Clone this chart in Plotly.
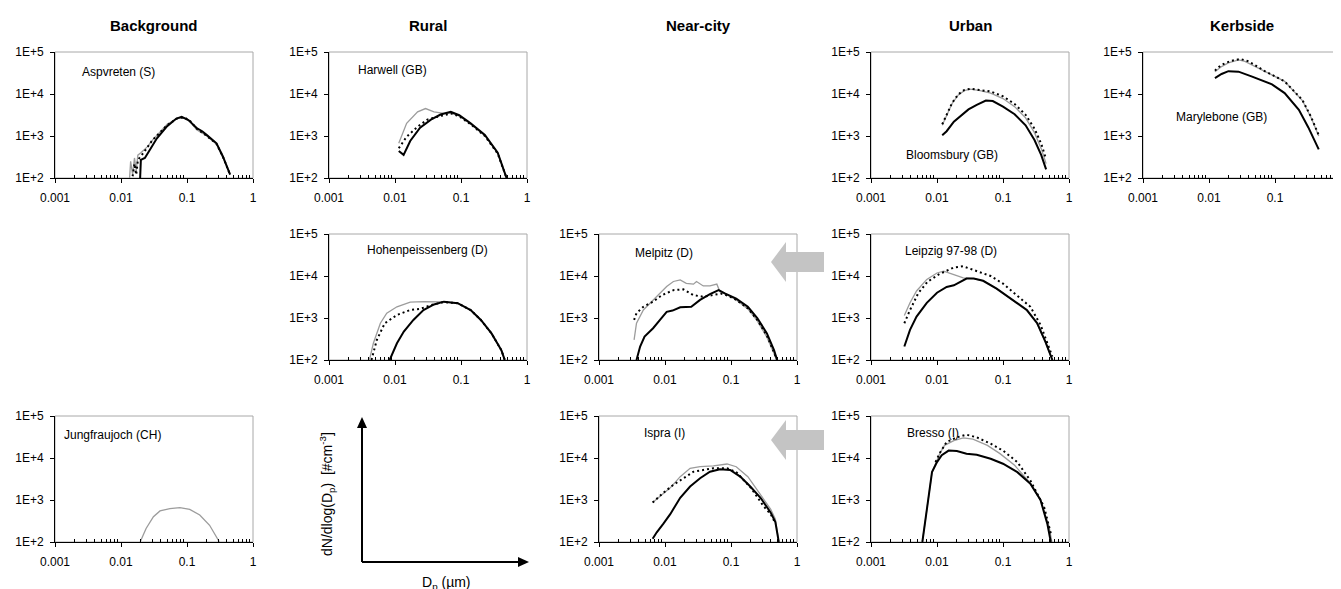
import plotly.graph_objects as go

# The page body has an 8 px margin: the figure is sized and positioned to compensate.
PAGE_W, PAGE_H, BODY = 1341, 589, 8
W, H = PAGE_W - BODY, PAGE_H - BODY

# ---------------- data (diameter in µm, dN/dlogDp in #/cm3) ----------------
# Aspvreten (S)
aspv_black_x = [0.0195, 0.02, 0.023, 0.035, 0.049, 0.069, 0.083, 0.105, 0.14, 0.17, 0.2, 0.28, 0.35, 0.45]
aspv_black_y = [100, 270, 300, 880, 1660, 2600, 2850, 2400, 1550, 1300, 1050, 670, 325, 120]
aspv_gray_x = [0.0135, 0.014, 0.015, 0.016, 0.017, 0.018, 0.02, 0.025, 0.03, 0.04, 0.05, 0.07, 0.09, 0.11, 0.14, 0.2, 0.28, 0.35, 0.45]
aspv_gray_y = [100, 250, 120, 300, 150, 350, 400, 550, 800, 1300, 1900, 2600, 2700, 2300, 1400, 1000, 640, 310, 125]
aspv_dot_x = [0.015, 0.016, 0.017, 0.018, 0.019, 0.022, 0.03, 0.04, 0.05, 0.07, 0.09, 0.11, 0.14, 0.2, 0.28, 0.35, 0.45]
aspv_dot_y = [110, 220, 120, 260, 300, 400, 800, 1250, 1800, 2600, 2800, 2350, 1500, 1000, 650, 320, 120]

# Harwell (GB)
harw_black_x = [0.0114, 0.0135, 0.017, 0.024, 0.035, 0.049, 0.07, 0.094, 0.14, 0.23, 0.36, 0.49]
harw_black_y = [440, 355, 760, 1570, 2460, 3240, 3760, 3120, 2000, 1060, 400, 100]
harw_gray_x = [0.0114, 0.015, 0.022, 0.029, 0.039, 0.055, 0.07, 0.094, 0.14, 0.23, 0.36, 0.49]
harw_gray_y = [670, 2000, 3760, 4500, 3760, 3450, 3500, 3000, 1950, 1030, 390, 100]
harw_dot_x = [0.0114, 0.015, 0.022, 0.031, 0.043, 0.07, 0.094, 0.14, 0.23, 0.36, 0.49]
harw_dot_y = [510, 960, 1660, 2460, 2840, 3450, 2950, 1900, 1000, 380, 100]

# Bloomsbury (GB)
bloo_black_x = [0.012, 0.014, 0.018, 0.024, 0.03, 0.04, 0.055, 0.07, 0.1, 0.15, 0.22, 0.3, 0.38, 0.45]
bloo_black_y = [1040, 1300, 2200, 3300, 4300, 5500, 7000, 6800, 5000, 3300, 1800, 800, 350, 160]
bloo_gray_x = [0.012, 0.014, 0.017, 0.021, 0.026, 0.032, 0.045, 0.065, 0.1, 0.15, 0.22, 0.3, 0.38, 0.45]
bloo_gray_y = [1800, 3000, 6000, 9500, 12000, 13000, 12000, 10500, 7800, 5000, 2700, 1200, 500, 220]
bloo_dot_x = [0.012, 0.014, 0.017, 0.021, 0.026, 0.032, 0.045, 0.065, 0.1, 0.15, 0.22, 0.3, 0.38, 0.45]
bloo_dot_y = [1900, 3200, 6200, 9800, 12500, 13300, 12500, 11500, 8800, 5800, 3200, 1500, 650, 280]

# Marylebone (GB)
mary_black_x = [0.0123, 0.0155, 0.0197, 0.028, 0.045, 0.09, 0.14, 0.23, 0.32, 0.46]
mary_black_y = [24000, 30000, 35000, 34000, 26000, 17000, 10500, 4200, 1600, 480]
mary_gray_x = [0.0123, 0.0155, 0.0197, 0.028, 0.035, 0.07, 0.14, 0.26, 0.35, 0.46]
mary_gray_y = [34000, 45000, 55000, 65000, 60000, 34000, 20000, 7000, 2800, 1000]
mary_dot_x = [0.0123, 0.015, 0.018, 0.022, 0.03, 0.04, 0.07, 0.14, 0.26, 0.35, 0.46]
mary_dot_y = [36000, 48000, 55000, 62000, 68000, 60000, 35000, 20000, 7200, 2900, 1050]

# Hohenpeissenberg (D)
hohe_black_x = [0.0083, 0.0107, 0.0136, 0.019, 0.027, 0.039, 0.055, 0.089, 0.14, 0.2, 0.29, 0.41, 0.46]
hohe_black_y = [100, 250, 475, 900, 1550, 2100, 2450, 2250, 1550, 900, 430, 170, 100]
hohe_gray_x = [0.0041, 0.0047, 0.006, 0.0075, 0.0107, 0.017, 0.027, 0.04, 0.055, 0.089, 0.14, 0.2, 0.29, 0.41, 0.46]
hohe_gray_y = [100, 250, 750, 1300, 1850, 2400, 2450, 2450, 2420, 2250, 1550, 900, 430, 170, 100]
hohe_dot_x = [0.0044, 0.0053, 0.007, 0.0107, 0.017, 0.024, 0.034, 0.055, 0.089, 0.14, 0.2, 0.29, 0.41, 0.46]
hohe_dot_y = [100, 300, 750, 1180, 1550, 1650, 2000, 2400, 2250, 1550, 900, 430, 170, 100]

# Melpitz (D)
melp_black_x = [0.0037, 0.0042, 0.0049, 0.0066, 0.0084, 0.0106, 0.013, 0.017, 0.025, 0.034, 0.048, 0.065, 0.082, 0.12, 0.18, 0.25, 0.35, 0.45, 0.5]
melp_black_y = [100, 210, 360, 570, 900, 1400, 1500, 1800, 1860, 2700, 3700, 4600, 3800, 2900, 1850, 1000, 430, 170, 100]
melp_gray_x = [0.0034, 0.0037, 0.0047, 0.0059, 0.0084, 0.0106, 0.0134, 0.017, 0.021, 0.027, 0.03, 0.038, 0.048, 0.061, 0.068, 0.09, 0.12, 0.18, 0.25, 0.35, 0.45, 0.49]
melp_gray_y = [300, 750, 1550, 2200, 3900, 5600, 7400, 8100, 6700, 6400, 7400, 5800, 5800, 6400, 4200, 3500, 2700, 1650, 850, 350, 140, 100]
melp_dot_x = [0.0034, 0.0037, 0.0047, 0.0066, 0.009, 0.0134, 0.019, 0.027, 0.038, 0.052, 0.07, 0.09, 0.12, 0.18, 0.25, 0.35, 0.45, 0.5]
melp_dot_y = [900, 1300, 1850, 2450, 3500, 4600, 4800, 3500, 3200, 3500, 3800, 3400, 2700, 1700, 900, 380, 150, 100]

# Leipzig 97-98 (D)
leip_black_x = [0.0032, 0.0039, 0.0049, 0.007, 0.01, 0.014, 0.018, 0.023, 0.028, 0.036, 0.05, 0.08, 0.13, 0.17, 0.23, 0.33, 0.44, 0.56]
leip_black_y = [210, 520, 1080, 2300, 4000, 5500, 6000, 7500, 8700, 8700, 7700, 5000, 2900, 2200, 1550, 750, 270, 100]
leip_gray_x = [0.0032, 0.0039, 0.0049, 0.007, 0.01, 0.0126, 0.018, 0.025, 0.036, 0.05, 0.08, 0.13, 0.17, 0.23, 0.33, 0.44, 0.56]
leip_gray_y = [1150, 2300, 4400, 8300, 11800, 13000, 10800, 9000, 8700, 7700, 5000, 2900, 2200, 1500, 720, 260, 100]
leip_dot_x = [0.0032, 0.0039, 0.0052, 0.0072, 0.0107, 0.018, 0.025, 0.04, 0.065, 0.1, 0.16, 0.26, 0.37, 0.5, 0.56]
leip_dot_y = [750, 1550, 3900, 7300, 11000, 16000, 17000, 13000, 10000, 6600, 3500, 1850, 690, 210, 120]

# Jungfraujoch (CH)
jung_gray_x = [0.0195, 0.024, 0.031, 0.039, 0.055, 0.078, 0.11, 0.156, 0.22, 0.3, 0.31]
jung_gray_y = [100, 210, 400, 550, 620, 660, 600, 440, 250, 110, 100]

# Ispra (I)
ispr_black_x = [0.0065, 0.0075, 0.0094, 0.012, 0.017, 0.024, 0.034, 0.048, 0.068, 0.097, 0.138, 0.196, 0.28, 0.4, 0.47, 0.53]
ispr_black_y = [120, 170, 270, 460, 1130, 2100, 3300, 4700, 5400, 5200, 3600, 2100, 1130, 500, 300, 100]
ispr_gray_x = [0.0065, 0.0084, 0.012, 0.017, 0.024, 0.034, 0.054, 0.087, 0.12, 0.18, 0.28, 0.4, 0.47, 0.53]
ispr_gray_y = [870, 1240, 1950, 3600, 5700, 6200, 6500, 7200, 6200, 3600, 1360, 600, 350, 100]
ispr_dot_x = [0.0065, 0.0094, 0.0134, 0.019, 0.027, 0.038, 0.054, 0.087, 0.12, 0.2, 0.31, 0.4, 0.47]
ispr_dot_y = [870, 1480, 2300, 3300, 4700, 5200, 5700, 5700, 4600, 1950, 720, 460, 280]

# Bresso (I)
bres_black_x = [0.006, 0.007, 0.0084, 0.01, 0.0118, 0.015, 0.02, 0.028, 0.04, 0.065, 0.1, 0.165, 0.26, 0.37, 0.47, 0.53]
bres_black_y = [100, 570, 4600, 8000, 11600, 15000, 14700, 12700, 12000, 9600, 7300, 4600, 2450, 1000, 270, 100]
bres_gray_x = [0.006, 0.007, 0.0084, 0.011, 0.013, 0.018, 0.025, 0.035, 0.058, 0.09, 0.15, 0.24, 0.37, 0.5, 0.55]
bres_gray_y = [100, 570, 4600, 12700, 20000, 26000, 30000, 28000, 20000, 12700, 6700, 2900, 1000, 230, 100]
bres_dot_x = [0.0095, 0.011, 0.014, 0.02, 0.028, 0.04, 0.065, 0.1, 0.165, 0.26, 0.42, 0.53]
bres_dot_y = [8000, 13000, 24000, 31000, 36000, 31000, 22000, 15000, 8000, 2900, 680, 160]

column_titles = ["Background", "Rural", "Near-city", "Urban", "Kerbside"]
y_tickvals = [100, 1000, 10000, 100000]
y_ticktext = ["1E+2", "1E+3", "1E+4", "1E+5"]
x_tickvals = [0.001, 0.01, 0.1, 1]
x_ticktext = ["0.001", "0.01", "0.1", "1"]

# ---------------- layout geometry (page pixels) ----------------
COL_LEFT = [55, 329, 599, 871, 1143]
ROW_TOP = [52, 234, 416]
PW, PH = 198, 126

panels = [
    # col, row, label, label_px(x,y), series
    (0, 0, "Aspvreten (S)", (80, 72), [("gray", aspv_gray_x, aspv_gray_y), ("dot", aspv_dot_x, aspv_dot_y), ("black", aspv_black_x, aspv_black_y)]),
    (1, 0, "Harwell (GB)", (356, 70), [("gray", harw_gray_x, harw_gray_y), ("dot", harw_dot_x, harw_dot_y), ("black", harw_black_x, harw_black_y)]),
    (3, 0, "Bloomsbury (GB)", (904, 155), [("gray", bloo_gray_x, bloo_gray_y), ("dot", bloo_dot_x, bloo_dot_y), ("black", bloo_black_x, bloo_black_y)]),
    (4, 0, "Marylebone (GB)", (1174, 117), [("gray", mary_gray_x, mary_gray_y), ("dot", mary_dot_x, mary_dot_y), ("black", mary_black_x, mary_black_y)]),
    (1, 1, "Hohenpeissenberg (D)", (365, 250), [("gray", hohe_gray_x, hohe_gray_y), ("dot", hohe_dot_x, hohe_dot_y), ("black", hohe_black_x, hohe_black_y)]),
    (2, 1, "Melpitz (D)", (633, 253), [("gray", melp_gray_x, melp_gray_y), ("dot", melp_dot_x, melp_dot_y), ("black", melp_black_x, melp_black_y)]),
    (3, 1, "Leipzig 97-98 (D)", (903, 251), [("gray", leip_gray_x, leip_gray_y), ("dot", leip_dot_x, leip_dot_y), ("black", leip_black_x, leip_black_y)]),
    (0, 2, "Jungfraujoch (CH)", (62, 435), [("gray", jung_gray_x, jung_gray_y)]),
    (2, 2, "Ispra (I)", (642, 433), [("gray", ispr_gray_x, ispr_gray_y), ("dot", ispr_dot_x, ispr_dot_y), ("black", ispr_black_x, ispr_black_y)]),
    (3, 2, "Bresso (I)", (905, 433), [("gray", bres_gray_x, bres_gray_y), ("dot", bres_dot_x, bres_dot_y), ("black", bres_black_x, bres_black_y)]),
]

STYLES = {
    "black": dict(color="black", width=2, dash="solid"),
    "gray": dict(color="#9c9c9c", width=1.3, dash="solid"),
    "dot": dict(color="black", width=2, dash="2px,3px"),
}

def px(x):
    return (x - BODY) / W

def py(y):
    return 1 - (y - BODY) / H

FONT = "Liberation Sans, Arial, sans-serif"

fig = go.Figure()
shapes = []
annotations = []
minor_vals = [m * d for d in (0.001, 0.01, 0.1) for m in range(2, 10)]

for i, (c, r, label, (lx, ly), series) in enumerate(panels, start=1):
    xa = "x" if i == 1 else f"x{i}"
    ya = "y" if i == 1 else f"y{i}"
    x0, y0 = COL_LEFT[c], ROW_TOP[r]
    dom_x = [px(x0), min(1.0, px(x0 + PW))]
    dom_y = [py(y0 + PH), py(y0)]
    common = dict(showgrid=False, zeroline=False, showline=True, linecolor="black", linewidth=1,
                  ticks="outside", ticklen=4, tickcolor="black", automargin=False,
                  tickfont=dict(family=FONT, size=12, color="black"))
    fig.update_layout(**{
        ("xaxis" if i == 1 else f"xaxis{i}"): dict(
            domain=dom_x, anchor=ya, type="log", range=[-3, 0],
            tickvals=x_tickvals, ticktext=x_ticktext,
            minor=dict(tickvals=minor_vals, ticks="inside", ticklen=3, tickcolor="black", showgrid=False),
            ticklabelstandoff=5, **common),
        ("yaxis" if i == 1 else f"yaxis{i}"): dict(
            domain=dom_y, anchor=xa, type="log", range=[2, 5],
            tickvals=y_tickvals, ticktext=y_ticktext, ticklabelstandoff=4, **common),
    })
    # light gray frame of the plot area
    shapes.append(dict(type="rect", xref=f"{xa} domain", yref=f"{ya} domain",
                       x0=0, x1=1, y0=0, y1=1, line=dict(color="#a8a8a8", width=1), layer="below"))
    for kind, xs, ys in series:
        fig.add_trace(go.Scatter(x=xs, y=ys, xaxis=xa, yaxis=ya, mode="lines",
                                 line=dict(**STYLES[kind]), showlegend=False, hoverinfo="skip",
                                 cliponaxis=True))
    annotations.append(dict(x=px(lx), y=py(ly), xref="paper", yref="paper", text=label,
                            showarrow=False, xanchor="left", yanchor="middle",
                            font=dict(family=FONT, size=12, color="black")))

# column titles
for c, title in enumerate(column_titles):
    annotations.append(dict(x=px(COL_LEFT[c] + PW / 2), y=py(25), xref="paper", yref="paper",
                            text=f"<b>{title}</b>", showarrow=False, xanchor="center", yanchor="middle",
                            font=dict(family=FONT, size=15, color="black")))

# gray block arrows (pointing left) in the Near-city column
def block_arrow(cy):
    tip, neck, tail = 771, 786, 824
    path = (f"M {px(tip)},{py(cy)} L {px(neck)},{py(cy - 20)} L {px(neck)},{py(cy - 10)} "
            f"L {px(tail)},{py(cy - 10)} L {px(tail)},{py(cy + 10)} L {px(neck)},{py(cy + 10)} "
            f"L {px(neck)},{py(cy + 20)} Z")
    return dict(type="path", xref="paper", yref="paper", path=path,
                fillcolor="#c4c4c4", line=dict(width=0), layer="above")

shapes.append(block_arrow(262))
shapes.append(block_arrow(440))

# axes sketch (bottom of Rural column)
ox, oy = 362, 562
shapes.append(dict(type="line", xref="paper", yref="paper", x0=px(ox), y0=py(oy), x1=px(ox), y1=py(424),
                   line=dict(color="black", width=2)))
shapes.append(dict(type="line", xref="paper", yref="paper", x0=px(ox), y0=py(oy), x1=px(520), y1=py(oy),
                   line=dict(color="black", width=2)))
shapes.append(dict(type="path", xref="paper", yref="paper",
                   path=f"M {px(ox)},{py(417)} L {px(ox - 5)},{py(428)} L {px(ox + 5)},{py(428)} Z",
                   fillcolor="black", line=dict(width=0)))
shapes.append(dict(type="path", xref="paper", yref="paper",
                   path=f"M {px(529)},{py(oy)} L {px(518)},{py(oy - 5)} L {px(518)},{py(oy + 5)} Z",
                   fillcolor="black", line=dict(width=0)))
annotations.append(dict(x=px(327), y=py(494), xref="paper", yref="paper",
                        text="dN/dlog(D<sub>p</sub>)  [#cm<sup>-3</sup>]", textangle=-90,
                        showarrow=False, xanchor="center", yanchor="middle",
                        font=dict(family=FONT, size=14, color="black")))
annotations.append(dict(x=px(446), y=py(583), xref="paper", yref="paper",
                        text="D<sub>p</sub> (µm)", showarrow=False, xanchor="center", yanchor="middle",
                        font=dict(family=FONT, size=14, color="black")))

fig.update_layout(width=W, height=H, margin=dict(l=0, r=0, t=0, b=0, autoexpand=False),
                  paper_bgcolor="white", plot_bgcolor="white",
                  shapes=shapes, annotations=annotations, showlegend=False)

fig.write_html("out.html")
